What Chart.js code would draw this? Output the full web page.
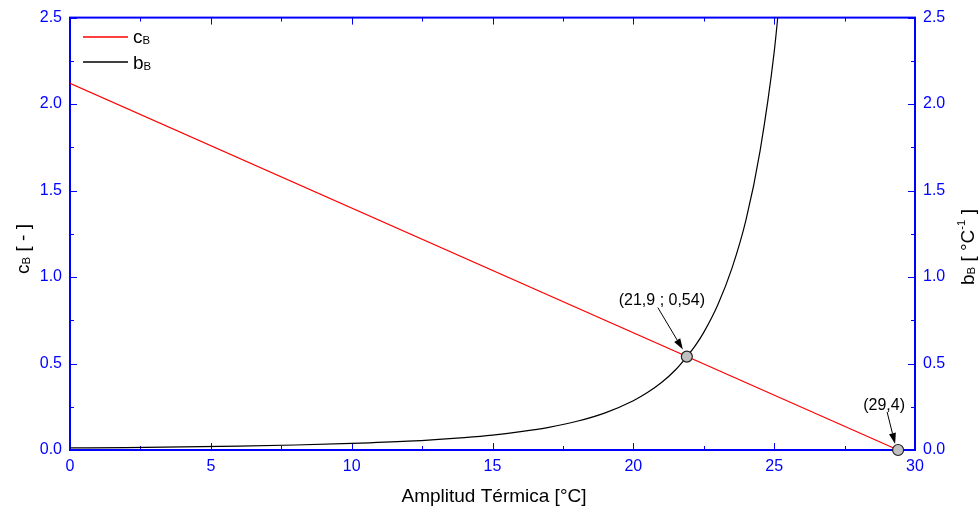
<!DOCTYPE html>
<html>
<head>
<meta charset="utf-8">
<script src="https://cdn.jsdelivr.net/npm/chart.js@4/dist/chart.umd.min.js"></script>
<style>
  html, body { margin: 0; padding: 0; background: #fff; }
  canvas { display: block; }
</style>
</head>
<body>
<canvas id="grafico" width="979" height="508"></canvas>
<script>
// c_B: linear, from 2.12 down to zero at 29.4 °C
const amplitudC = [0, 29.4];
const valoresC = [2.12, 0];

// b_B: grows slowly, then shoots up past 25 °C
const amplitudB = [0, 2, 4, 6, 8, 10, 12, 14, 15, 16, 17, 18, 19, 20, 20.5, 21, 21.5, 21.9, 22.2, 22.5, 23, 23.5, 24, 24.5, 25, 25.3];
const valoresB = [0.012, 0.014, 0.018, 0.022, 0.029, 0.038, 0.051, 0.072, 0.086, 0.106, 0.131, 0.166, 0.215, 0.285, 0.332, 0.39, 0.464, 0.54, 0.603, 0.68, 0.84, 1.05, 1.33, 1.73, 2.30, 2.80];

// marked points and their labels
const marcasX = [21.9, 29.4];
const marcasY = [0.54, 0];
const marcasTexto = ['(21,9 ; 0,54)', '(29,4)'];

const ticksX = [0, 5, 10, 15, 20, 25, 30];
const ticksY = [0, 0.5, 1.0, 1.5, 2.0, 2.5];

const AZUL = '#0000ff';
const FUENTE = '"Liberation Sans", Arial, sans-serif';

// text with a small subscript (and optional superscript) drawn at the baseline
function textoSub(ctx, partes, x, y, tam) {
  let cx = x;
  partes.forEach(p => {
    const t = p.tipo === 'sub' || p.tipo === 'sup' ? tam * 0.6 : tam;
    ctx.font = t + 'px ' + FUENTE;
    let dy = 0;
    if (p.tipo === 'sub') dy = tam * 0.05;
    if (p.tipo === 'sup') dy = -tam * 0.45;
    ctx.fillText(p.t, cx, y + dy);
    cx += ctx.measureText(p.t).width;
  });
  return cx - x;
}

function anchoSub(ctx, partes, tam) {
  let w = 0;
  partes.forEach(p => {
    const t = p.tipo === 'sub' || p.tipo === 'sup' ? tam * 0.6 : tam;
    ctx.font = t + 'px ' + FUENTE;
    w += ctx.measureText(p.t).width;
  });
  return w;
}

function flecha(ctx, x1, y1, x2, y2) {
  const ang = Math.atan2(y2 - y1, x2 - x1);
  const largo = 11, ancho = 3.5;
  const bx = x2 - largo * Math.cos(ang), by = y2 - largo * Math.sin(ang);
  ctx.strokeStyle = '#000';
  ctx.lineWidth = 1;
  ctx.beginPath();
  ctx.moveTo(x1, y1);
  ctx.lineTo(bx, by);
  ctx.stroke();
  ctx.fillStyle = '#000';
  ctx.beginPath();
  ctx.moveTo(x2, y2);
  ctx.lineTo(bx + ancho * Math.sin(ang), by - ancho * Math.cos(ang));
  ctx.lineTo(bx - ancho * Math.sin(ang), by + ancho * Math.cos(ang));
  ctx.closePath();
  ctx.fill();
}

// frame with inward ticks on all four sides
const marco = {
  id: 'marco',
  beforeDatasetsDraw(chart) {
    const { ctx, chartArea: a, scales } = chart;
    ctx.save();
    ctx.strokeStyle = AZUL;
    ctx.lineWidth = 2;
    ctx.strokeRect(a.left, a.top, a.right - a.left, a.bottom - a.top);
    ctx.lineWidth = 1;
    ctx.beginPath();
    for (let v = 0; v <= 30; v += 2.5) {
      const px = Math.round(scales.x.getPixelForValue(v)) + 0.5;
      const l = v % 5 === 0 ? 7 : 4;
      ctx.moveTo(px, a.bottom); ctx.lineTo(px, a.bottom - l);
      ctx.moveTo(px, a.top); ctx.lineTo(px, a.top + l);
    }
    for (let v = 0; v <= 2.5001; v += 0.25) {
      const py = Math.round(scales.y.getPixelForValue(v)) + 0.5;
      const l = Math.abs(v * 2 - Math.round(v * 2)) < 1e-6 ? 7 : 4;
      ctx.moveTo(a.left, py); ctx.lineTo(a.left + l, py);
      ctx.moveTo(a.right, py); ctx.lineTo(a.right - l, py);
    }
    ctx.stroke();
    ctx.restore();
  },
  afterDraw(chart) {
    const { ctx, scales } = chart;
    ctx.save();
    ctx.fillStyle = '#000';
    ctx.textBaseline = 'alphabetic';

    // legend
    ctx.lineWidth = 1.3;
    ctx.strokeStyle = 'rgb(255, 0, 0)';
    ctx.beginPath(); ctx.moveTo(83, 37); ctx.lineTo(128, 37); ctx.stroke();
    ctx.strokeStyle = 'rgb(0, 0, 0)';
    ctx.beginPath(); ctx.moveTo(83, 62); ctx.lineTo(128, 62); ctx.stroke();
    ctx.fillStyle = '#000';
    textoSub(ctx, [{ t: 'c' }, { t: 'B', tipo: 'sub' }], 133, 43, 19);
    textoSub(ctx, [{ t: 'b' }, { t: 'B', tipo: 'sub' }], 133, 69, 19);

    // axis titles
    ctx.font = '19px ' + FUENTE;
    ctx.textAlign = 'center';
    ctx.fillText('Amplitud Térmica [°C]', 494, 502);
    ctx.textAlign = 'left';

    const izq = [{ t: 'c' }, { t: 'B', tipo: 'sub' }, { t: ' [ - ]' }];
    ctx.save();
    ctx.translate(29, 249);
    ctx.rotate(-Math.PI / 2);
    textoSub(ctx, izq, -anchoSub(ctx, izq, 19) / 2, 0, 19);
    ctx.restore();

    const der = [{ t: 'b' }, { t: 'B', tipo: 'sub' }, { t: ' [ °C' }, { t: '-1', tipo: 'sup' }, { t: ' ]' }];
    ctx.save();
    ctx.translate(974, 247);
    ctx.rotate(-Math.PI / 2);
    textoSub(ctx, der, -anchoSub(ctx, der, 19) / 2, 0, 19);
    ctx.restore();

    // arrows and labels of the marked points
    const p0x = scales.x.getPixelForValue(marcasX[0]);
    const p0y = scales.y.getPixelForValue(marcasY[0]);
    const p1x = scales.x.getPixelForValue(marcasX[1]);
    const p1y = scales.y.getPixelForValue(marcasY[1]);
    flecha(ctx, p0x - 29, p0y - 49, p0x - 4, p0y - 7);
    flecha(ctx, p1x - 11, p1y - 38, p1x - 3, p1y - 6);
    ctx.fillStyle = '#000';
    ctx.font = '16px ' + FUENTE;
    ctx.textAlign = 'center';
    ctx.fillText(marcasTexto[0], p0x - 25, p0y - 52);
    ctx.fillText(marcasTexto[1], p1x - 14, p1y - 40);

    // markers on top of everything
    for (let i = 0; i < marcasX.length; i++) {
      const px = scales.x.getPixelForValue(marcasX[i]);
      const py = scales.y.getPixelForValue(marcasY[i]);
      ctx.beginPath();
      ctx.arc(px, py, 5.5, 0, Math.PI * 2);
      ctx.fillStyle = '#c0c0c0';
      ctx.fill();
      ctx.strokeStyle = '#222';
      ctx.lineWidth = 1.2;
      ctx.stroke();
    }
    ctx.restore();
  }
};

const ejeY = (pos, ancho) => ({
  type: 'linear',
  position: pos,
  min: 0,
  max: 2.5,
  afterBuildTicks: s => { s.ticks = ticksY.map(v => ({ value: v })); },
  afterFit: s => { s.width = ancho; },
  grid: { display: false, drawTicks: false },
  border: { display: false },
  ticks: {
    color: AZUL,
    padding: 8,
    font: { family: FUENTE, size: 16 },
    callback: v => Number(v).toFixed(1)
  }
});

new Chart(document.getElementById('grafico'), {
  type: 'line',
  data: {
    datasets: [
      {
        label: 'cB',
        data: amplitudC.map((x, i) => ({ x, y: valoresC[i] })),
        borderColor: '#ff0000',
        borderWidth: 1.1,
        pointRadius: 0,
        fill: false
      },
      {
        label: 'bB',
        data: amplitudB.map((x, i) => ({ x, y: valoresB[i] })),
        borderColor: '#000000',
        borderWidth: 1.2,
        pointRadius: 0,
        cubicInterpolationMode: 'monotone',
        fill: false
      }
    ]
  },
  options: {
    responsive: false,
    devicePixelRatio: 1,
    animation: false,
    layout: { padding: { top: 16, right: 0, left: 0, bottom: 0 } },
    plugins: {
      legend: { display: false },
      tooltip: { enabled: false }
    },
    scales: {
      x: {
        type: 'linear',
        min: 0,
        max: 30,
        afterBuildTicks: s => { s.ticks = ticksX.map(v => ({ value: v })); },
        afterFit: s => { s.height = 58; },
        grid: { display: false, drawTicks: false },
        border: { display: false },
        ticks: {
          color: AZUL,
          padding: 7,
          maxRotation: 0,
          font: { family: FUENTE, size: 16 }
        }
      },
      y: ejeY('left', 70),
      y1: ejeY('right', 64)
    }
  },
  plugins: [marco]
});
</script>
</body>
</html>
